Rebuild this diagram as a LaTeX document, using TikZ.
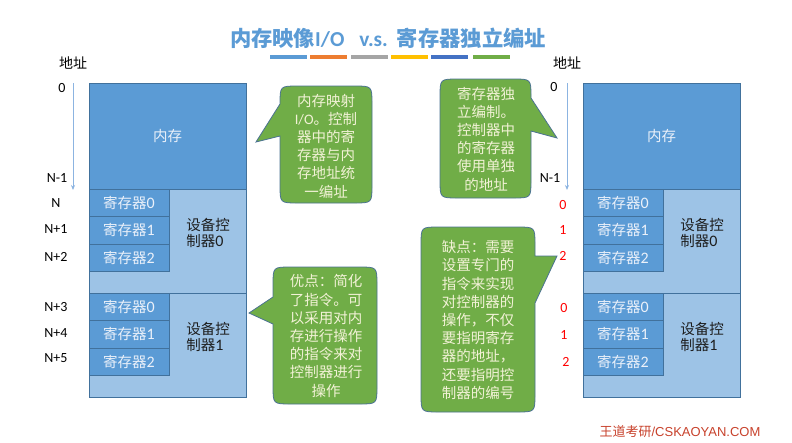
\documentclass[tikz,border=0pt]{standalone}
\usepackage{fontspec}
\setmainfont{Noto Sans CJK SC}
\newfontfamily\lat{Carlito}
\newfontfamily\arial{Liberation Sans}
\newcommand{\dg}[1]{{\lat\fontsize{16}{16}\selectfont #1}}
\usetikzlibrary{arrows.meta}
\definecolor{memblue}{HTML}{5B9BD5}
\definecolor{devblue}{HTML}{9DC3E6}
\definecolor{edgeblue}{HTML}{41719C}
\definecolor{calgreen}{HTML}{70AD47}
\definecolor{caledge}{HTML}{4A7291}
\definecolor{caltext}{RGB}{242,242,214}
\definecolor{lighttext}{RGB}{235,241,250}
\definecolor{darktext}{RGB}{30,30,30}
\definecolor{axisblue}{RGB}{140,180,225}
\definecolor{titleblue}{HTML}{5B9BD5}
\definecolor{footred}{RGB}{200,66,44}
\definecolor{barA}{HTML}{5B9BD5}
\definecolor{barB}{HTML}{ED7D31}
\definecolor{barC}{HTML}{A5A5A5}
\definecolor{barD}{HTML}{FFC000}
\definecolor{barE}{HTML}{4472C4}
\definecolor{barF}{HTML}{70AD47}
\begin{document}
\begin{tikzpicture}[x=1pt,y=-1pt,
  box/.style={draw=edgeblue, line width=0.8pt, inner sep=0pt, outer sep=0pt, anchor=north west},
  mem/.style={box, fill=memblue, text=lighttext, minimum width=157pt, minimum height=106pt, font=\fontsize{14.5}{17}\selectfont},
  dev/.style={box, fill=devblue, minimum width=157pt, minimum height=104pt},
  reg/.style={box, fill=memblue, text=lighttext, minimum width=80pt, minimum height=27.5pt, font=\fontsize{14.5}{17}\selectfont},
  devlabel/.style={align=left, text=darktext, inner sep=0pt, font=\fontsize{14.5}{16.5}\selectfont},
  addr/.style={inner sep=0pt, text=black, font=\lat\fontsize{14}{14}\selectfont},
  addrcjk/.style={inner sep=0pt, text=black, font=\fontsize{14}{14}\selectfont},
  redno/.style={addr, text=red},
  callout/.style={fill=calgreen, draw=caledge, line width=0.8pt},
  calltext/.style={align=center, text=caltext, inner sep=0pt, font=\fontsize{14.5}{18.2}\selectfont},
  axis/.style={draw=axisblue, line width=0.8pt, -{Stealth[length=5pt,width=4pt]}},
]
\useasboundingbox[fill=white] (0,0) rectangle (792,442);

% title and colour bars
\node[inner sep=0pt, text=titleblue, font=\fontsize{21.3}{24}\selectfont\bfseries] (title) at (388,38)
  {内存映像{\lat I/O}\hspace{15pt}{\lat v.s.}\hspace{9pt}寄存器独立编址};
\fill[barA] (270,55) rectangle (307,58.5);
\fill[barB] (310,55) rectangle (347,58.5);
\fill[barC] (351,55) rectangle (388,58.5);
\fill[barD] (391,55) rectangle (428,58.5);
\fill[barE] (431,55) rectangle (468,58.5);
\fill[barF] (473,55) rectangle (510,58.5);

% ---------- left diagram ----------
\node[dev] (devA0) at (89,189) {};
\node[dev] (devA1) at (89,293) {};
\node[mem] (memA) at (89,83) {内存};
\node[reg] (rA00) at (89,189) {寄存器\dg{0}};
\node[reg] (rA01) at (89,216.5) {寄存器\dg{1}};
\node[reg] (rA02) at (89,244) {寄存器\dg{2}};
\node[reg] (rA10) at (89,293) {寄存器\dg{0}};
\node[reg] (rA11) at (89,320.5) {寄存器\dg{1}};
\node[reg] (rA12) at (89,348) {寄存器\dg{2}};
\node[devlabel] (dlA0) at (208,233) {设备控\\制器\dg{0}};
\node[devlabel] (dlA1) at (208,337) {设备控\\制器\dg{1}};

\node[addrcjk] (addrA) at (73,63) {地址};
\coordinate (axA0) at (73,83);
\coordinate (axA1) at (73,190);
\draw[axis] (axA0) -- (axA1);
\node[addr] (a0) at (62,88) {0};
\node[addr] (aN1) at (57,178) {N-1};
\node[addr] (aN) at (56,203) {N};
\node[addr] (aNp1) at (56,229) {N+1};
\node[addr] (aNp2) at (56,257) {N+2};
\node[addr] (aNp3) at (56,307) {N+3};
\node[addr] (aNp4) at (56,333) {N+4};
\node[addr] (aNp5) at (56,358) {N+5};

% callout A1
\draw[callout] (280,136) -- (256,142) -- (280,104) -- (280,104)
  .. controls (280,86) .. (298,86) -- (354,86) .. controls (372,86) .. (372,104)
  -- (372,185) .. controls (372,203) .. (354,203) -- (298,203)
  .. controls (280,203) .. (280,185) -- cycle;
\node[calltext] (cA1) at (326,146) {内存映射\\{\lat I/O}。控制\\器中的寄\\存器与内\\存地址统\\一编址};

% callout A2
\draw[callout] (273,324) -- (249,313) -- (273,297) -- (273,285)
  .. controls (273,267) .. (291,267) -- (359,267) .. controls (377,267) .. (377,285)
  -- (377,386) .. controls (377,404) .. (359,404) -- (291,404)
  .. controls (273,404) .. (273,386) -- cycle;
\node[calltext] (cA2) at (326,336) {优点：简化\\了指令。可\\以采用对内\\存进行操作\\的指令来对\\控制器进行\\操作};

% ---------- right diagram ----------
\node[dev] (devB0) at (583,189) {};
\node[dev] (devB1) at (583,293) {};
\node[mem] (memB) at (583,83) {内存};
\node[reg] (rB00) at (583,189) {寄存器\dg{0}};
\node[reg] (rB01) at (583,216.5) {寄存器\dg{1}};
\node[reg] (rB02) at (583,244) {寄存器\dg{2}};
\node[reg] (rB10) at (583,293) {寄存器\dg{0}};
\node[reg] (rB11) at (583,320.5) {寄存器\dg{1}};
\node[reg] (rB12) at (583,348) {寄存器\dg{2}};
\node[devlabel] (dlB0) at (702,233) {设备控\\制器\dg{0}};
\node[devlabel] (dlB1) at (702,337) {设备控\\制器\dg{1}};

\node[addrcjk] (addrB) at (567,63) {地址};
\coordinate (axB0) at (567,83);
\coordinate (axB1) at (567,190);
\draw[axis] (axB0) -- (axB1);
\node[addr] (b0) at (554,87) {0};
\node[addr] (bN1) at (550,178) {N-1};
\node[redno] (bA0) at (563,205) {0};
\node[redno] (bA1) at (563,230) {1};
\node[redno] (bA2) at (563,256) {2};
\node[redno] (bB0) at (564,308) {0};
\node[redno] (bB1) at (564,335) {1};
\node[redno] (bB2) at (566,362) {2};

% callout B1
\draw[callout] (531,98) -- (557,138) -- (531,131) -- (531,180)
  .. controls (531,198) .. (513,198) -- (458,198) .. controls (440,198) .. (440,180)
  -- (440,97) .. controls (440,79) .. (458,79) -- (513,79)
  .. controls (531,79) .. (531,97) -- cycle;
\node[calltext] (cB1) at (486,139) {寄存器独\\立编制。\\控制器中\\的寄存器\\使用单独\\的地址};

% callout B2
\draw[callout] (535,256) -- (557,256) -- (535,303) -- (535,394)
  .. controls (535,412) .. (517,412) -- (439,412) .. controls (421,412) .. (421,394)
  -- (421,245) .. controls (421,227) .. (439,227) -- (517,227)
  .. controls (535,227) .. (535,245) -- cycle;
\node[calltext] (cB2) at (478,320) {缺点：需要\\设置专门的\\指令来实现\\对控制器的\\操作，不仅\\要指明寄存\\器的地址，\\还要指明控\\制器的编号};

% footer
\node[inner sep=0pt, text=footred, font=\fontsize{13}{15}\selectfont] (footer) at (680,432) {王道考研{\arial /CSKAOYAN.COM}};
\end{tikzpicture}
\end{document}
